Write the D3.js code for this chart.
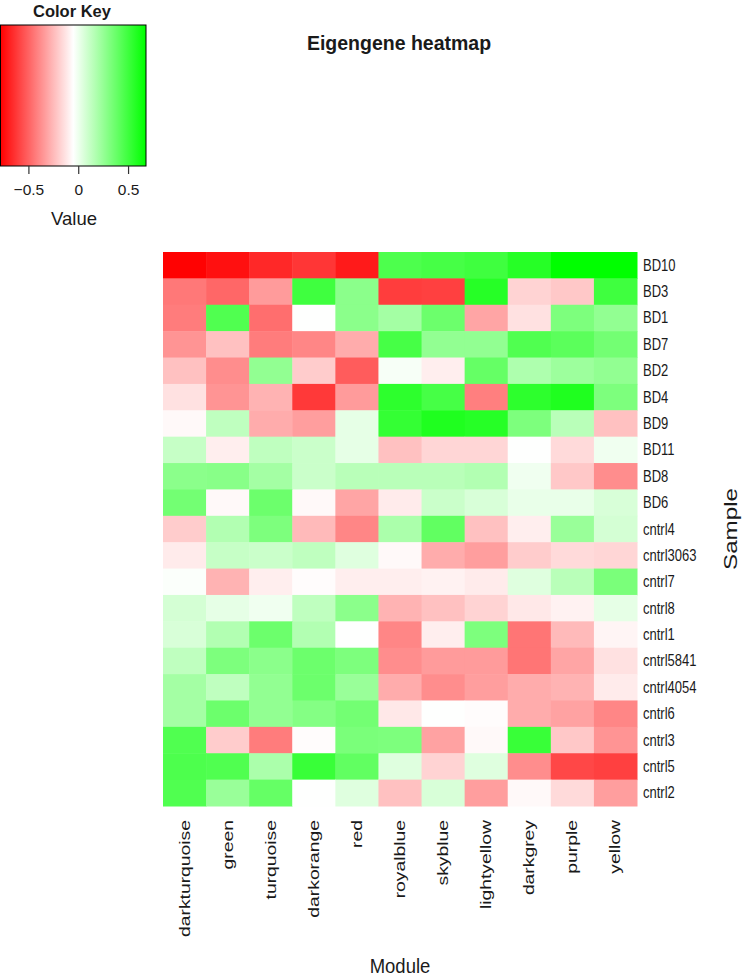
<!DOCTYPE html>
<html>
<head>
<meta charset="utf-8">
<script src="https://cdn.jsdelivr.net/npm/d3@7"></script>
<style>
  body { margin: 0; background: #fff; }
  svg { display: block; font-family: "Liberation Sans", Arial, sans-serif; }
</style>
</head>
<body>
<svg id="chart" width="743" height="976"></svg>
<script>
// modules (columns) and samples (rows)
const modules = ["darkturquoise", "green", "turquoise", "darkorange", "red", "royalblue",
    "skyblue", "lightyellow", "darkgrey", "purple", "yellow"];
const samples = ["BD10", "BD3", "BD1", "BD7", "BD2", "BD4", "BD9", "BD11", "BD8", "BD6",
    "cntrl4", "cntrl3063", "cntrl7", "cntrl8", "cntrl1", "cntrl5841", "cntrl4054",
    "cntrl6", "cntrl3", "cntrl5", "cntrl2"];

// eigengene values, one row per sample, in module order
const values = [
    [-0.78, -0.74, -0.67, -0.63, -0.71, 0.46, 0.48, 0.50, 0.57, 0.68, 0.68],
    [-0.44, -0.49, -0.34, 0.50, 0.28, -0.61, -0.60, 0.57, -0.18, -0.21, 0.50],
    [-0.43, 0.45, -0.47, -0.05, 0.28, 0.21, 0.37, -0.31, -0.14, 0.32, 0.26],
    [-0.36, -0.23, -0.43, -0.40, -0.29, 0.48, 0.26, 0.26, 0.45, 0.42, 0.35],
    [-0.23, -0.38, 0.26, -0.20, -0.52, -0.03, -0.10, 0.39, 0.18, 0.23, 0.26],
    [-0.14, -0.36, -0.27, -0.62, -0.34, 0.55, 0.48, -0.42, 0.55, 0.59, 0.32],
    [-0.07, 0.13, -0.29, -0.33, 0.02, 0.53, 0.59, 0.57, 0.32, 0.15, -0.23],
    [0.11, -0.10, 0.13, 0.10, 0.02, -0.23, -0.17, -0.17, -0.05, -0.16, -0.01],
    [0.28, 0.29, 0.21, 0.10, 0.15, 0.15, 0.15, 0.17, -0.01, -0.21, -0.38],
    [0.35, -0.07, 0.37, -0.07, -0.31, -0.11, 0.10, 0.06, 0.01, 0.01, 0.06],
    [-0.20, 0.17, 0.32, -0.25, -0.40, 0.19, 0.40, -0.23, -0.10, 0.24, 0.07],
    [-0.11, 0.11, 0.10, 0.13, 0.04, -0.07, -0.29, -0.33, -0.20, -0.16, -0.17],
    [-0.04, -0.27, -0.10, -0.06, -0.10, -0.10, -0.09, -0.11, 0.04, 0.15, 0.33],
    [0.07, 0.02, -0.01, 0.13, 0.28, -0.27, -0.23, -0.18, -0.12, -0.09, 0.02],
    [0.06, 0.17, 0.37, 0.17, -0.05, -0.40, -0.10, 0.32, -0.45, -0.25, -0.08],
    [0.13, 0.32, 0.28, 0.37, 0.32, -0.38, -0.34, -0.34, -0.45, -0.31, -0.14],
    [0.21, 0.13, 0.26, 0.37, 0.24, -0.29, -0.38, -0.33, -0.29, -0.27, -0.11],
    [0.21, 0.37, 0.26, 0.30, 0.35, -0.12, -0.05, -0.06, -0.29, -0.32, -0.40],
    [0.45, -0.20, -0.43, -0.06, 0.33, 0.32, -0.32, -0.07, 0.52, -0.21, -0.36],
    [0.46, 0.45, 0.19, 0.52, 0.40, 0.04, -0.18, 0.04, -0.38, -0.58, -0.60],
    [0.45, 0.24, 0.39, -0.05, 0.04, -0.23, 0.06, -0.33, -0.07, -0.16, -0.33]
];

// colour key range and ticks
const keyRange = [-0.785, 0.68];
const keyTicks = [-0.5, 0, 0.5];

const svg = d3.select("#chart");
const textColor = "#1a1a1a";
// the source picture is stretched vertically a little
const stretch = 1.3;

const color = d3.scaleLinear()
    .domain([keyRange[0], (keyRange[0] + keyRange[1]) / 2, keyRange[1]])
    .range(["#ff0000", "#ffffff", "#00ff00"])
    .clamp(true);

// heatmap
const hm = { left: 163, right: 637, top: 252, bottom: 806 };

const x = d3.scaleBand().domain(modules).range([hm.left, hm.right]);
const y = d3.scaleBand().domain(samples).range([hm.top, hm.bottom]);

const cells = [];
values.forEach((row, i) => {
    row.forEach((v, j) => {
        cells.push({ sample: samples[i], module: modules[j], value: v });
    });
});

svg.append("g")
    .selectAll("rect")
    .data(cells)
    .join("rect")
    .attr("x", d => x(d.module))
    .attr("y", d => y(d.sample))
    .attr("width", x.bandwidth() + 0.5)
    .attr("height", y.bandwidth() + 0.5)
    .attr("fill", d => color(d.value));

// row labels
svg.append("g")
    .selectAll("text")
    .data(samples)
    .join("text")
    .attr("transform", d => `translate(${hm.right + 6},${y(d) + y.bandwidth() / 2 + 5.5}) scale(1,${stretch})`)
    .attr("font-size", 13)
    .attr("fill", textColor)
    .text(d => d);

// column labels
svg.append("g")
    .selectAll("text")
    .data(modules)
    .join("text")
    .attr("transform", d => `translate(${x(d) + x.bandwidth() / 2 + 5},${hm.bottom + 14}) scale(1,1.38) rotate(-90)`)
    .attr("text-anchor", "end")
    .attr("font-size", 14)
    .attr("fill", textColor)
    .text(d => d);

svg.append("text")
    .attr("transform", `translate(${(hm.left + hm.right) / 2},973) scale(1,1.1)`)
    .attr("text-anchor", "middle")
    .attr("font-size", 18.5)
    .attr("fill", textColor)
    .text("Module");

svg.append("text")
    .attr("transform", `translate(737,${(hm.top + hm.bottom) / 2}) scale(1,1.38) rotate(-90)`)
    .attr("text-anchor", "middle")
    .attr("font-size", 17.5)
    .attr("fill", textColor)
    .text("Sample");

svg.append("text")
    .attr("x", 399)
    .attr("y", 50)
    .attr("text-anchor", "middle")
    .attr("font-size", 19.5)
    .attr("font-weight", "bold")
    .attr("fill", textColor)
    .text("Eigengene heatmap");

// colour key
const key = { left: 0, right: 146, top: 25, bottom: 166 };
const kx = d3.scaleLinear().domain(keyRange).range([key.left, key.right]);

const grad = svg.append("defs").append("linearGradient")
    .attr("id", "keygrad")
    .attr("x1", "0%").attr("x2", "100%");
grad.selectAll("stop")
    .data(d3.range(0, 1.0001, 0.05))
    .join("stop")
    .attr("offset", d => `${d * 100}%`)
    .attr("stop-color", d => color(keyRange[0] + d * (keyRange[1] - keyRange[0])));

svg.append("rect")
    .attr("x", key.left + 0.5)
    .attr("y", key.top)
    .attr("width", key.right - key.left - 0.5)
    .attr("height", key.bottom - key.top)
    .attr("fill", "url(#keygrad)")
    .attr("stroke", "#000")
    .attr("stroke-width", 1);

const keyAxis = svg.append("g")
    .attr("transform", `translate(0,${key.bottom})`)
    .call(d3.axisBottom(kx).tickValues(keyTicks).tickSize(8).tickPadding(10)
        .tickFormat(d3.format("")));
keyAxis.select(".domain").remove();
keyAxis.selectAll(".tick line").attr("stroke", "#333").attr("stroke-width", 1.2);
keyAxis.selectAll("text")
    .attr("font-size", 15.5)
    .attr("font-family", "Liberation Sans, Arial, sans-serif")
    .attr("fill", textColor);

svg.append("text")
    .attr("x", 72)
    .attr("y", 17)
    .attr("text-anchor", "middle")
    .attr("font-size", 16.5)
    .attr("font-weight", "bold")
    .attr("fill", textColor)
    .text("Color Key");

svg.append("text")
    .attr("x", 74)
    .attr("y", 225)
    .attr("text-anchor", "middle")
    .attr("font-size", 18.5)
    .attr("fill", textColor)
    .text("Value");
</script>
</body>
</html>
